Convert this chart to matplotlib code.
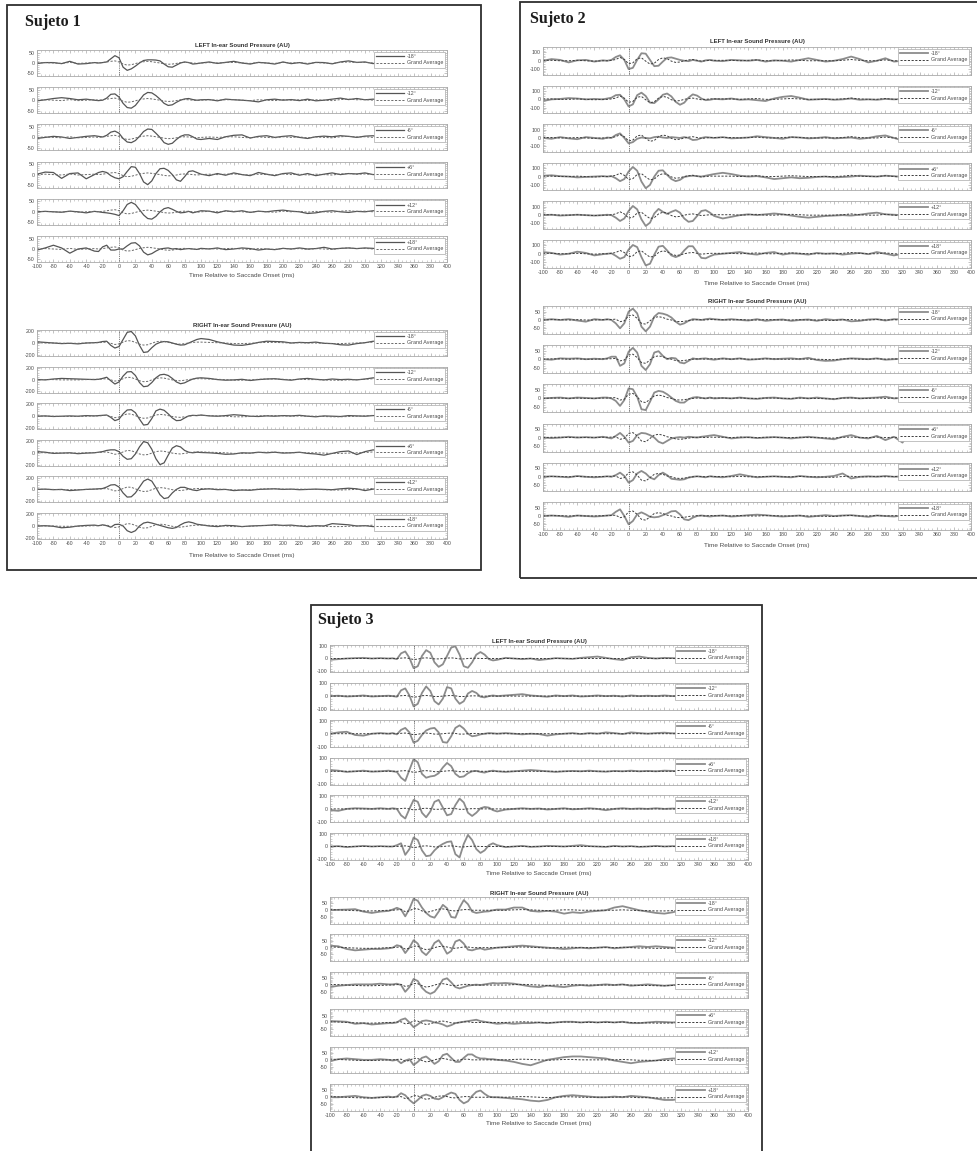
import numpy as np
import matplotlib
matplotlib.use("Agg")
import matplotlib.pyplot as plt
from matplotlib.patches import Rectangle
from matplotlib.ticker import MultipleLocator

# sample times (ms): coarse before/after the saccade, finer around onset
T = np.concatenate([np.arange(-100, -25, 10), np.arange(-25, 101, 5), np.arange(110, 331, 10)])

DIRECTIONS = ["-18°", "-12°", "-6°", "+6°", "+12°", "+18°"]

# ---------------- Sujeto 1 ----------------
s1_left_m18 = [-2, 2, 2, -3, 8, -5, -3, 2,
               0, 2, 5, 20, 35, 25, -20, -35, -28, -15, 0, 12, 15, 15, 14, 10, -5, -18, -20, -10, 0, 5, 2, -5, -3, 0,
               5, -2, 3, 8, 0, -5, 3, 0, -5, 5, -3, 2, -5, 3, 2, -4, 5, 10, 3, 5, -3, 12, 20]
s1_left_m12 = [-3, 2, 8, 12, 8, 2, 5, 0,
               -2, 0, 10, 28, 30, 15, -15, -35, -38, -25, 0, 25, 37, 35, 22, 5, -15, -25, -22, -10, 0, 6, 8, 3, 0, 2,
               3, -3, 5, 2, 0, -3, -8, 2, 5, 0, 3, -2, 5, -3, 0, 5, 10, 3, 8, 2, 5, 0, 2]
s1_left_m6 = [-5, 0, 5, 2, -5, 0, 5, 8,
              5, 2, 10, 25, 30, 20, -5, -22, -25, -15, 5, 28, 40, 38, 20, 0, -25, -33, -28, -10, 5, 12, 12, 3, -8, -10,
              -5, -10, 3, 10, 12, -3, 5, 8, 0, 5, 8, 0, -5, 3, 6, 3, 8, 5, 0, 6, 8, -5, 2]
s1_left_p6 = [2, 12, 10, -18, 5, 8, -20, 0,
              10, 15, 10, -5, -15, -20, -10, 15, 38, 35, 5, -35, -48, -30, 5, 28, 30, 20, 0, -25, -32, -10, 15, 18, 10, 2,
              -5, 5, -3, 8, 0, -5, 10, 2, -5, 5, 8, -3, 5, -5, 2, 8, 0, 5, 3, 8, 0, 5, 0]
s1_left_p12 = [0, 2, 0, -2, 3, 0, -5, 2,
               0, -3, -5, -8, -12, -18, 5, 35, 45, 35, 10, -15, -32, -35, -22, 0, 15, 20, 12, 2, -5, -3, 2, -5, 0, 5,
               3, -5, 5, 0, 5, -3, 3, 0, 5, 8, 3, 0, -8, -5, 2, 5, 0, -3, 2, 0, 5, 3, 0]
s1_left_p18 = [-5, 5, 18, 5, -20, 0, 5, -10,
               -12, 10, 18, -5, -5, 0, 0, 15, 28, 30, 15, -15, -28, -22, -10, 0, 3, 5, 0, 2, -3, 0, 2, 0, -2, 3,
               0, 5, -3, 0, 5, 2, -5, 0, -3, 3, 0, 5, 0, 2, 8, 0, 3, 5, 2, 5, 3, -3, 0]
s1_left_grand = [0, 2, 0, -2, 3, -2, 0, 2,
                 0, 2, 5, 8, 10, 5, -5, -10, -8, -3, 3, 6, 8, 6, 3, 0, -4, -6, -5, -2, 2, 3, 2, 0, -2, 0,
                 2, 0, 2, 3, 0, -2, 2, 0, -2, 3, 0, 2, -2, 2, 0, -2, 3, 5, 2, 3, 0, 5, 8]

s1_right_m18 = [20, 10, 0, -10, -5, -15, 0, 5,
                10, 25, 30, -40, -85, -60, 60, 180, 195, 120, -40, -160, -150, -80, -20, 10, 25, 20, 0, -20, -35, -30, 0, 30, 60, 75,
                60, 20, -10, -35, -40, -20, 10, 30, 25, 20, 0, 10, 5, 15, -5, -10, -30, -35, -10, 5, 30, 20, 0]
s1_right_m12 = [0, -5, 10, 20, 15, 10, 5, 0,
                5, 20, 40, -20, -75, -40, 60, 130, 135, 70, -50, -120, -110, -50, 30, 80, 90, 70, 20, -40, -70, -55, -20, 10, 25, 30,
                20, 0, -10, -5, 5, -15, 0, 10, 15, 0, -10, 10, 20, 5, -5, 10, 0, 5, -5, 10, 30, 15, 0]
s1_right_m6 = [0, 5, -5, 0, 5, 0, 10, 5,
               10, 15, 20, -20, -75, -50, 40, 105, 110, 60, -50, -150, -140, -40, 90, 120, 100, 40, -30, -75, -70, -30, 5, 15, 10, 20,
               5, 0, 10, 25, 15, 0, -5, 5, 0, 10, 5, 15, 0, -10, 5, 0, -5, 10, 5, 0, 10, 15, 5]
s1_right_p6 = [20, 10, -10, -5, 0, -15, -5, 0,
               10, 20, 40, 50, 50, 20, -60, -110, -100, -20, 100, 190, 170, 60, -100, -200, -170, -40, 80, 120, 100, 40, 10, 0, 10, 5,
               0, -10, -25, -20, 0, -5, 10, 0, 10, -5, 0, 10, -10, -20, -40, -10, 20, 30, -30, 20, 50, 20, 0]
s1_right_p12 = [0, 5, -5, 0, -20, -10, 0, 5,
                10, 15, 40, 75, 80, 40, -60, -130, -125, -60, 40, 140, 175, 140, 30, -90, -155, -140, -60, 0, 35, 35, 10, -10, -20, 0,
                10, -5, 0, -20, -10, -15, 0, 5, 10, 0, 5, -5, 0, 5, 0, -5, 10, 20, 10, -20, 5, 10, 0]
s1_right_p18 = [0, 5, -5, -30, -20, 0, 10, 15,
                5, 20, 5, -20, 25, 30, 0, -80, -110, -80, 0, 50, 65, 50, 30, 10, -10, -30, -40, -25, 20, 55, 70, 55, 30, 20,
                0, -10, 10, 5, -10, 0, 5, 10, 20, 10, 15, 0, -10, 5, 0, 40, 30, 20, 0, 5, -10, 0, -5]
s1_right_grand = [5, 0, 0, -5, -5, -5, 0, 5,
                  5, 10, 15, -5, -25, -15, 15, 40, 35, 10, -20, -35, -30, -5, 20, 30, 25, 10, -5, -15, -20, -10, 0, 10, 15, 15,
                  10, 5, 0, -10, -10, -5, 5, 10, 10, 5, 0, 5, 0, 0, -5, -10, -10, -5, 0, 5, 15, 10, 0]

# ---------------- Sujeto 2 ----------------
s2_left_m18 = [0, 20, 10, -20, 5, 10, -10, 5,
               0, 10, 45, 65, 10, -100, -85, 10, 90, 85, 10, -65, -60, -10, 35, 40, 25, 10, 0, -5, 10, 0, -10, 5, 10, 0,
               -5, 10, 5, 0, 10, -10, 5, 0, -10, 10, 30, 10, -10, 0, 20, 50, 20, -20, 0, 30, -10, 0, 5]
s2_left_m12 = [-20, 0, 5, 15, 10, 0, 5, 0,
               10, 20, 50, 55, 0, -85, -60, 50, 80, 40, -40, -45, 0, 55, 70, 35, -30, -65, -40, 20, 60, 45, 10, -10, -5, 5,
               0, 10, -5, 0, -10, -20, 10, 30, 40, 20, -5, 0, 5, -5, 0, 10, -5, 0, -5, 5, 0, 5, 0]
s2_left_m6 = [0, -10, 10, -5, -15, 10, 0, -10,
              5, 0, 35, 55, 0, -65, -50, -10, 5, 0, -5, 10, 15, 5, 0, 10, 5, 0, 10, 0, -25, -20, 0, 10, 5, 0,
              10, -5, 0, 5, 20, 10, 0, -10, 10, 5, -5, 0, 10, -5, 0, 5, -10, 0, 20, 30, 0, -30, 0]
s2_left_p6 = [10, 15, 5, 0, -10, -5, 0, 5,
              0, 5, -20, -55, -30, 60, 115, 70, -60, -140, -100, 0, 70, 75, 20, -30, -55, -40, -5, 5, 10, 5, 0, 10, 20, 30,
              45, 30, 10, 0, 5, -10, -30, -20, -10, -20, -15, -5, 0, -10, -5, 0, 10, 5, 0, 10, 5, -5, 0]
s2_left_p12 = [0, 5, -5, 0, 5, 0, -5, 0,
               5, 0, -30, -70, -40, 50, 110, 70, -50, -130, -90, 20, 75, 40, 15, 40, 60, 30, -40, -80, -70, -10, 50, 60, 30, -10,
               -40, -20, 0, 10, 0, 10, 20, 10, -5, -20, -30, -20, -10, -5, 0, -5, 5, 20, 30, 10, 5, 0, 5]
s2_left_p18 = [20, 10, -10, 0, 25, 10, -20, -5,
               0, 5, -25, -60, -40, 50, 105, 80, -40, -140, -120, -10, 85, 95, 40, -20, -40, -20, 40, 90, 90, 20, -50, -55, -30, -10,
               0, 10, 20, 0, -10, 10, 20, -10, 5, 0, -10, 10, 0, 5, -10, 0, 10, -5, 20, 0, -20, 0, 20]
s2_left_grand = [5, 5, 0, 0, 5, 0, -5, 0,
                 0, 5, 15, 40, 15, -35, -25, 25, 35, -5, -40, -30, 15, 35, 25, -5, -20, -15, 0, 10, 15, 5, -5, 0, 5, 5,
                 5, 5, 0, 5, 10, 0, 0, 5, 10, 5, 0, 0, 0, 0, 5, 15, 5, 0, 0, 10, 0, -5, 0]

s2_right_m18 = [0, 5, 0, 5, -3, -10, 5, 0,
                5, 0, -20, -50, -20, 50, 68, 40, -40, -68, -40, 20, 42, 38, 30, 15, -10, -28, -20, -5, 5, 3, 0, 5, 8, 5,
                0, 5, 0, -3, 5, -5, 0, 3, -5, 0, 3, -5, 5, 0, 3, -8, -5, 3, 5, -3, 5, 3, 0]
s2_right_m12 = [0, -3, 5, 3, 5, 0, 3, 0,
                5, 15, 15, -40, -25, 45, 68, 40, -40, -65, -30, 40, 48, 20, 0, 8, 5, -20, -25, -10, 5, 0, 3, 5, 0, -3,
                5, 0, 5, -3, 0, 5, 0, 3, 5, 0, 8, -5, -10, -8, 0, 5, 3, 0, 5, -3, 0, 3, 0]
s2_right_m6 = [0, 3, 5, 0, 5, 3, 0, 5,
               5, 0, -15, -45, -10, 60, 55, 10, -65, -70, -20, 35, 45, 40, 25, 5, -15, -25, -25, -5, 5, 8, 3, 0, 5, 0,
               3, 0, 5, 0, -3, 3, 5, 0, -3, 5, 0, 5, 0, -5, 3, 5, 0, 3, 5, 10, 0, 3, 0]
s2_right_p6 = [0, -3, 0, 5, 0, 3, 0, 5,
               0, -5, 10, 28, 5, -30, -20, 15, 28, 25, 15, 0, -25, -35, -20, -5, 0, 3, 0, 5, 3, 0, 5, 8, 12, 15,
               5, -5, 0, 3, -3, 0, 3, 0, -5, 0, 5, 0, -5, -10, 5, 15, 0, -5, 10, -15, 5, -30, 50]
s2_right_p12 = [0, 3, 0, -3, 5, 0, -3, 0,
                3, 0, 10, 25, 5, -35, -20, 20, 35, 20, -5, -15, 10, 25, 10, -12, -15, -18, -15, -5, 0, 3, 0, -3, 3, 0,
                -3, 5, 15, 5, -3, 0, 3, 0, -3, 5, 0, -3, 0, 5, 20, -10, 0, 3, 0, 5, 0, 3, 0]
s2_right_p18 = [0, 3, 0, -5, 3, 0, -3, 0,
                3, 5, 25, 40, 0, -50, -30, 10, 22, 10, -5, -8, -5, 5, 15, 28, 30, 10, -20, -25, -10, 0, 3, 0, -3, 0,
                3, -3, 0, 5, 8, 5, 0, -3, 0, 3, -5, 0, 5, 0, 3, 5, 0, -5, 3, 0, -3, 3, 0]
s2_right_grand = [0, 2, 2, 0, 2, 0, 0, 2,
                  2, 3, 5, -10, -5, 25, 30, 10, -20, -25, -5, 15, 20, 15, 5, 0, -8, -10, -8, -3, 0, 2, 2, 0, 3, 2,
                  2, 0, 3, 0, 0, 2, 2, 0, 0, 2, 0, 0, -2, -3, 2, 3, 0, 0, 3, 0, 2, 0, 0]

# ---------------- Sujeto 3 ----------------
s3_left_m18 = [-10, -5, 0, 3, 5, 0, 3, 0,
               2, -5, 40, 55, 5, -75, -60, 20, 65, 45, -30, -65, -45, 20, 85, 95, 30, -60, -72, -30, 30, 50, 30, -5, -15, -10,
               5, 0, -5, 0, -12, -5, 3, 0, -3, 5, 10, 15, 5, -5, -12, 10, 15, 5, 0, 5, 3, 0, 0]
s3_left_m12 = [0, 3, -3, 0, 5, -3, 0, 3,
               0, -5, 45, 60, 5, -80, -60, 25, 75, 40, -40, -65, -20, 70, 60, -20, -60, -40, 20, 40, 25, -5, -10, 0, 5, 0,
               5, 10, 15, 5, 0, -5, 5, 0, 5, -3, 0, 5, 0, 3, -3, 5, 0, 3, 0, 5, 0, 3, 0]
s3_left_m6 = [0, 10, 15, -10, -15, 0, 5, 0,
              5, -5, 30, 45, 10, -70, -55, -10, 25, 40, 45, 10, -65, -70, -20, 45, 65, 40, 0, -20, -15, -5, 0, 5, 3, 0,
              5, 0, -5, 0, -3, -15, -5, 0, 5, -3, 5, 0, 10, 5, -3, 10, 5, 0, 5, 8, 3, 5, 0]
s3_left_p6 = [10, 5, -5, 0, 5, -3, 0, 5,
              0, -5, -50, -75, 10, 95, 70, -20, -50, -40, -35, -15, 30, 65, 40, -20, -45, -40, -15, 0, 3, -5, -10, 0, 5, 0,
              -5, 0, 5, 10, 5, 0, -5, 0, 3, 0, 5, 0, -3, 3, 0, 5, 0, 3, 0, 5, 3, 0, 0]
s3_left_p12 = [-10, -15, 0, 5, 3, 0, 5, 0,
               5, 0, -50, -75, 0, 70, 55, -30, -65, -20, 55, 70, 10, -50, -40, 30, 80, 50, -30, -55, -30, 5, 15, 10, -10, -20,
               -5, 0, 5, 0, 3, -5, 0, 5, -3, 0, 5, 0, -10, 0, 5, 0, 3, 0, 5, 0, 3, 0, 0]
s3_left_p18 = [0, 3, -5, 0, 5, 0, 3, 0,
               0, 10, 25, -65, -20, 70, 50, -30, -75, -70, -30, 0, 20, 35, 40, -60, -85, 20, 90, 50, -20, -50, -30, 10, 25, 10,
               -5, 0, 5, -3, 0, 5, 3, 0, 5, 10, 3, 0, -3, 5, 0, 3, -3, 0, 5, 0, 3, 0, 0]
s3_left_grand = [0, 0, 0, 0, 0, 0, 0, 0,
                 0, 0, 3, 5, 0, -8, -5, 3, 5, 2, -3, -3, 0, 3, 5, 2, -3, -3, 0, 2, 2, 0, 0, 0, 0, 0,
                 0, 0, 0, 0, 0, 0, 0, 0, 0, 0, 0, 0, 0, 0, 0, 0, 0, 0, 0, 0, 0, 0, 0]

s3_right_m18 = [0, 3, 5, 8, -10, -20, -10, -5,
                5, 18, 5, -45, 10, 85, 70, 20, -20, -45, -55, -10, 40, 15, -50, -55, 20, 75, 45, -10, -20, -15, -10, -8, 0, 5,
                5, 20, 20, -5, -10, -5, -10, -25, -15, -20, -10, -5, 0, 20, 30, 15, 0, -10, -20, -25, -15, 0, 10]
s3_right_m12 = [15, 10, -10, -20, -15, -10, -10, -5,
                0, 18, 10, -40, 0, 55, 30, -30, -55, -20, 35, 55, 10, -45, -25, 45, 58, 30, -15, -20, -10, -5, -15, -10, -5, 0,
                5, 10, 15, 10, 5, 0, -5, -10, -5, 0, -5, 0, 5, -5, 0, 5, 10, 5, 10, 5, 0, -5, 0]
s3_right_m6 = [-15, -5, 0, 5, 5, 5, 10, 5,
               5, 10, 0, -50, -15, 45, 30, -20, -50, -65, -50, -10, 40, 50, 20, -15, -25, -15, -5, 0, 3, 0, 5, 10, 15, 12,
               15, 10, 0, -10, -15, -5, -10, -15, -5, 0, -5, 0, 5, 0, 5, -5, 0, 5, 0, -5, 0, 5, 0]
s3_right_p6 = [10, 8, 5, -10, -5, -15, -10, -5,
               -5, 0, 20, 30, 0, -35, -15, 10, 15, 10, 0, -5, -15, -30, -20, -5, 0, 5, 10, 15, 20, 10, 5, 0, -5, -10,
               -5, -10, -5, -5, 0, -5, 0, 5, 5, 0, 5, 0, 5, 0, 5, -5, -5, 0, 5, 3, 0, 5, 0]
s3_right_p12 = [-10, 5, 10, 5, 0, 0, 5, 0,
                -5, 0, -25, -5, 5, -38, -15, 15, 25, 0, -30, -10, 35, 45, 15, -15, -15, 15, 40, 40, 20, 10, 10, 5, 5, 0,
                -5, -15, -30, -40, -20, 0, 10, 20, 25, 25, 20, 15, 10, -5, -15, -25, -15, -10, -5, 5, 10, 10, 5]
s3_right_p18 = [0, 0, 5, 10, 0, -5, 0, 5,
                0, 5, 30, 15, -20, -45, -20, 10, 20, 10, -10, -15, 0, 20, 35, 25, -20, -45, -30, 10, 40, 50, 25, 5, 0, 0,
                -5, -10, -15, -25, -30, -20, 0, 10, 15, 10, 5, 0, 0, 5, 0, 10, 5, 0, -10, -20, -20, -10, 0]
s3_right_grand = [5, 3, 0, -3, -5, -5, -3, 0,
                  0, 3, 5, -10, -5, 12, 10, -5, -15, -10, 0, 8, 10, 5, -3, -5, 0, 5, 5, 0, 0, 0, 0, 0, 0, 0,
                  0, 3, 5, 3, 0, -3, 0, 3, 3, 0, 0, 0, 0, 0, 3, 0, -3, -3, -5, -5, -3, 0, 0]

S1_LEFT = [s1_left_m18, s1_left_m12, s1_left_m6, s1_left_p6, s1_left_p12, s1_left_p18]
S1_RIGHT = [s1_right_m18, s1_right_m12, s1_right_m6, s1_right_p6, s1_right_p12, s1_right_p18]
S2_LEFT = [s2_left_m18, s2_left_m12, s2_left_m6, s2_left_p6, s2_left_p12, s2_left_p18]
S2_RIGHT = [s2_right_m18, s2_right_m12, s2_right_m6, s2_right_p6, s2_right_p12, s2_right_p18]
S3_LEFT = [s3_left_m18, s3_left_m12, s3_left_m6, s3_left_p6, s3_left_p12, s3_left_p18]
S3_RIGHT = [s3_right_m18, s3_right_m12, s3_right_m6, s3_right_p6, s3_right_p12, s3_right_p18]

for group in (S1_LEFT, S1_RIGHT, S2_LEFT, S2_RIGHT, S3_LEFT, S3_RIGHT):
    for trace in group:
        assert len(trace) == len(T), len(trace)

plt.rcParams["font.family"] = ["Liberation Sans", "DejaVu Sans"]
plt.rcParams["axes.unicode_minus"] = False

W, H = 978, 1151
fig = plt.figure(figsize=(W / 100, H / 100), dpi=100)
fig.patch.set_facecolor("white")

TEXT = "#4a4a4a"
FRAME = "#a9a9a9"


def fx(px):
    return px / W


def fy(py):
    return 1 - py / H


def draw_box(x0, y0, x1, y1):
    fig.add_artist(Rectangle((fx(x0), fy(y1)), fx(x1 - x0), (y1 - y0) / H,
                             transform=fig.transFigure, fill=False, lw=1.3, ec="#2e2e2e"))


def draw_group(left, right, top0, step, height, traces, grand, ylim, ytick, title, title_y, xlabel_y,
               solid="#555555", solid_lw=0.9, dash="#6a6a6a"):
    for i, (label, y) in enumerate(zip(DIRECTIONS, traces)):
        top = top0 + step * i
        ax = fig.add_axes([fx(left), fy(top + height), fx(right - left), height / H])
        ax.plot(T, y, color=solid, lw=solid_lw, label=label, solid_joinstyle="round")
        ax.plot(T, grand, color=dash, lw=0.7, ls=(0, (2.2, 1.6)), label="Grand Average")
        ax.axvline(0, color="#555555", lw=0.6, ls=(0, (1, 1.2)))
        ax.set_xlim(-100, 400)
        ax.set_ylim(-ylim, ylim)
        ax.set_xticks(np.arange(-100, 401, 20))
        ax.xaxis.set_minor_locator(MultipleLocator(5))
        ax.set_yticks([-ytick, 0, ytick])
        ax.yaxis.set_minor_locator(MultipleLocator(ytick / 5))
        ax.tick_params(which="both", direction="in", top=True, right=True, color=FRAME,
                       labelcolor=TEXT, labelsize=3.8, pad=1.5)
        ax.tick_params(which="major", length=2.2, width=0.5)
        ax.tick_params(which="minor", length=1.1, width=0.4)
        if i < len(traces) - 1:
            ax.tick_params(labelbottom=False)
        for sp in ax.spines.values():
            sp.set_color(FRAME)
            sp.set_linewidth(0.6)
        leg = ax.legend(loc="upper right", fontsize=3.9, frameon=True, fancybox=False, framealpha=1,
                        edgecolor=FRAME, handlelength=5.2, borderpad=0.4, labelspacing=0.3,
                        handletextpad=0.5, borderaxespad=0.3)
        leg.get_frame().set_linewidth(0.5)
        for txt in leg.get_texts():
            txt.set_color(TEXT)
    cx = fx((left + right) / 2)
    fig.text(cx, fy(title_y), title, ha="center", va="center", fontsize=4.3,
             fontweight="bold", color="#333333")
    fig.text(cx, fy(xlabel_y), "Time Relative to Saccade Onset (ms)", ha="center", va="center",
             fontsize=4.6, color=TEXT)


def subject_title(x, y, text):
    fig.text(fx(x), fy(y), text, ha="left", va="center", fontsize=11.5, fontweight="bold",
             family="Liberation Serif", color="#1c1c1c")


# Sujeto 1
draw_box(7, 5, 481, 570)
subject_title(25, 22, "Sujeto 1")
draw_group(37, 447, 50, 37.2, 26, S1_LEFT, s1_left_grand, 62, 50,
           "LEFT In-ear Sound Pressure (AU)", 45, 275)
draw_group(37, 447, 330, 36.6, 26, S1_RIGHT, s1_right_grand, 220, 200,
           "RIGHT In-ear Sound Pressure (AU)", 325, 555)

# Sujeto 2
draw_box(520, 2, 995, 578)
subject_title(530, 19, "Sujeto 2")
draw_group(543, 971, 47, 38.6, 27.5, S2_LEFT, s2_left_grand, 165, 100,
           "LEFT In-ear Sound Pressure (AU)", 42, 283,
           solid="#8c8c8c", solid_lw=1.3, dash="#3c3c3c")
draw_group(543, 971, 306, 39.2, 28, S2_RIGHT, s2_right_grand, 84, 50,
           "RIGHT In-ear Sound Pressure (AU)", 302, 545,
           solid="#8c8c8c", solid_lw=1.3, dash="#3c3c3c")

# Sujeto 3
draw_box(311, 605, 762, 1170)
subject_title(318, 620, "Sujeto 3")
draw_group(330, 748, 645, 37.6, 27, S3_LEFT, s3_left_grand, 105, 100,
           "LEFT In-ear Sound Pressure (AU)", 642, 873,
           solid="#8c8c8c", solid_lw=1.3, dash="#3c3c3c")
draw_group(330, 748, 897, 37.4, 26.5, S3_RIGHT, s3_right_grand, 98, 50,
           "RIGHT In-ear Sound Pressure (AU)", 893, 1124,
           solid="#8c8c8c", solid_lw=1.3, dash="#3c3c3c")

fig.savefig("out.png", dpi=100)
